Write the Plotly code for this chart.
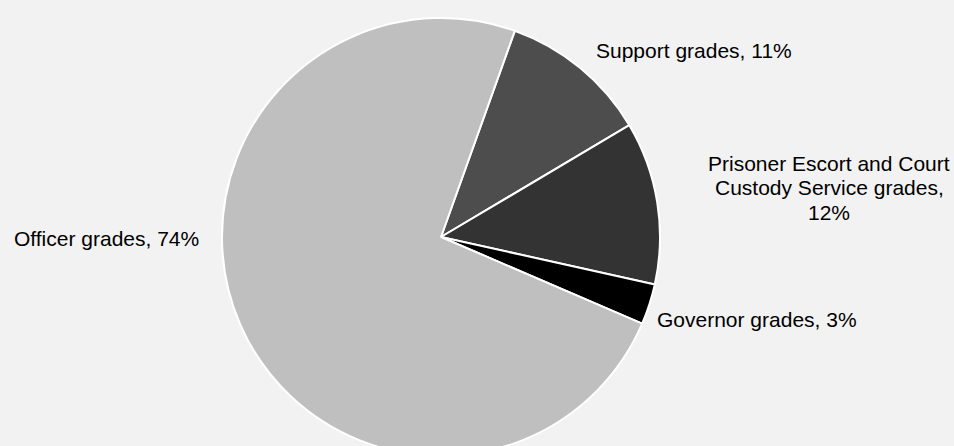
import plotly.graph_objects as go

# Data
categories = ["Support grades", "Prisoner Escort and Court Custody Service grades",
              "Governor grades", "Officer grades"]
# displayed label lines (value appended from `values`)
label_lines = [["Support grades, {v}%"],
               ["Prisoner Escort and Court", "Custody Service grades,", "{v}%"],
               ["Governor grades, {v}%"],
               ["Officer grades, {v}%"]]
values = [11, 12, 3, 74]
colors = ["#4d4d4d", "#333333", "#000000", "#bfbfbf"]

W, H = 954, 474

fig = go.Figure()
fig.add_trace(go.Pie(
    labels=categories,
    values=values,
    sort=False,
    direction="clockwise",
    rotation=19.7,
    textinfo="none",
    hoverinfo="none",
    marker=dict(colors=colors, line=dict(color="#ffffff", width=2)),
    domain=dict(x=[222 / W, 660 / W], y=[(H - 456) / H, (H - 18) / H]),
    showlegend=False,
))

# label placement (pixels): x, first-line y, xanchor
placements = [
    (594, 50, "left"),
    (829, 163, "center"),
    (655, 319.5, "left"),
    (12, 238, "left"),
]
LINE = 24.5
for lines, v, (px, py, xa) in zip(label_lines, values, placements):
    for i, ln in enumerate(lines):
        fig.add_annotation(
            text=ln.format(v=v), x=px / W, y=1 - (py + i * LINE) / H,
            xref="paper", yref="paper",
            xanchor=xa, yanchor="middle", showarrow=False,
            font=dict(family="Liberation Sans, Arial, sans-serif", size=21, color="#000000"),
        )

fig.update_layout(
    width=W, height=H,
    margin=dict(l=0, r=0, t=0, b=0),
    paper_bgcolor="#f2f2f2",
    plot_bgcolor="#f2f2f2",
)

fig.write_html("out.html", config={"displayModeBar": False},
               post_script="document.documentElement.style.overflow='hidden';document.body.style.overflow='hidden';document.body.style.margin='0';")
